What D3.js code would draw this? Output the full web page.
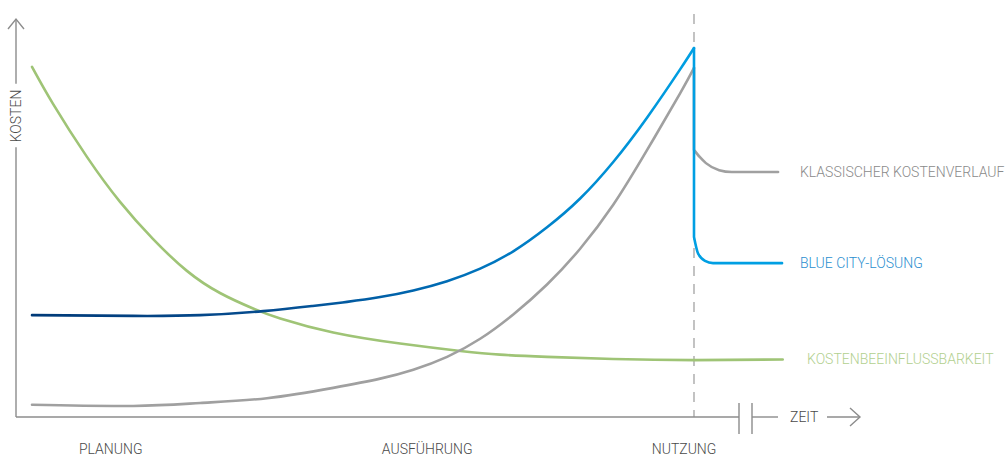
<!DOCTYPE html>
<html>
<head>
<meta charset="utf-8">
<script src="https://cdn.jsdelivr.net/npm/d3@7"></script>
<style>
  html, body { margin: 0; padding: 0; background: #fff; }
  svg { display: block; font-family: Roboto, "Liberation Sans", Arial, sans-serif; font-weight: 300; }
</style>
</head>
<body>
<svg id="chart" width="1005" height="457"></svg>
<script>
// Phase labels along the time axis (position in time units, 0 = start, 100 = handover)
const phases = ["PLANUNG", "AUSFÜHRUNG", "NUTZUNG"];
const phaseTime = [11.9, 59.7, 98.5];

// Series names, shown at the right end of each curve
const seriesNames = ["KLASSISCHER KOSTENVERLAUF", "BLUE CITY-LÖSUNG", "KOSTENBEEINFLUSSBARKEIT"];

// Classic cost curve (relative cost index) up to handover
const classicTime = [0, 15.3, 25.4, 35.5, 45.5, 52.6, 57.6, 62.7, 67.7, 72.7, 77.8, 82.8, 87.8, 92.9, 97.9, 100];
const classicCost = [3.3, 3.0, 3.8, 5.1, 7.9, 10.4, 12.8, 16.3, 21.2, 27.8, 35.9, 45.6, 57.5, 72.3, 87.7, 94.6];
// Classic cost during use: drop at handover, then settles
const classicDrop = [94.6, 72.4];
const classicUseTime = [100, 100.9, 101.8, 103.8, 105.7, 112.7];
const classicUseCost = [72.4, 70.4, 68.8, 66.9, 66.4, 66.4];

// Blue City solution up to handover
const blueTime = [0, 15.3, 25.4, 34.9, 42.4, 47.6, 52.6, 57.6, 62.7, 67.7, 72.7, 77.8, 82.8, 87.8, 92.9, 97.9, 100];
const blueCost = [27.6, 27.4, 27.6, 28.7, 30.1, 31.2, 32.5, 34.3, 36.8, 40.2, 44.9, 51.4, 59.2, 69.1, 81.1, 94.2, 100];
// Blue City solution during use
const blueDrop = [100, 48.8];
const blueUseTime = [100, 100.6, 101.66, 102.87, 113.3];
const blueUseCost = [48.8, 44.4, 42.3, 41.7, 41.7];

// Ability to influence costs over time
const influenceTime = [0, 3.2, 8.3, 13.3, 18.3, 23.4, 28.4, 33.4, 37.5, 45.5, 55.6, 64.7, 70.7, 77.8, 87.8, 100, 113.4];
const influenceValue = [94.9, 84.8, 70.5, 58.3, 48.2, 39.6, 33.6, 29.4, 26.7, 22.9, 19.9, 17.9, 16.9, 16.3, 15.7, 15.4, 15.6];

// Layout
const W = 1005, H = 457;
const axisX = 16, axisY = 417;
const plotLeft = 32, handoverX = 694, peakY = 48;
const fontSize = 14;

const svg = d3.select("#chart");

const x = d3.scaleLinear().domain([0, 100]).range([plotLeft, handoverX]);
const y = d3.scaleLinear().domain([0, 100]).range([axisY, peakY]);

const axisColor = "#8c8c8c";
const textColor = "#4a4a4a";
const grey = "#a0a0a0";
const green = "#9fc476";
const blueLight = "#009fe3";

// Gradient for the blue curve: navy at the start, bright blue at handover
const defs = svg.append("defs");
const grad = defs.append("linearGradient")
  .attr("id", "blueGrad")
  .attr("gradientUnits", "userSpaceOnUse")
  .attr("x1", x(0)).attr("y1", 0)
  .attr("x2", x(100)).attr("y2", 0);
[[0, "#003a78"], [0.35, "#064c8f"], [0.55, "#0062aa"], [0.72, "#0079c2"], [0.87, "#0090d5"], [1, "#00a0e3"]]
  .forEach(([o, c]) => grad.append("stop").attr("offset", o).attr("stop-color", c));

const zip = (ts, vs) => ts.map((t, i) => [t, vs[i]]);
const smooth = d3.line().x(d => x(d[0])).y(d => y(d[1])).curve(d3.curveNatural);
const settle = d3.line().x(d => x(d[0])).y(d => y(d[1])).curve(d3.curveMonotoneX);

// Vertical drop at handover followed by the settling curve
function dropPath(drop, ts, vs) {
  const tail = settle(zip(ts, vs));
  return `M${x(100)},${y(drop[0])}L${x(100)},${y(drop[1])}` + tail.replace(/^M[^CLZ]*/, "");
}

// Handover marker (dashed)
svg.append("line")
  .attr("x1", x(100)).attr("x2", x(100))
  .attr("y1", 14).attr("y2", axisY)
  .attr("stroke", "#b4b4b4").attr("stroke-width", 1.6)
  .attr("stroke-dasharray", "10,8");

// Curves
const curves = svg.append("g").attr("fill", "none")
  .attr("stroke-width", 2.6).attr("stroke-linecap", "round").attr("stroke-linejoin", "round");

curves.append("path").attr("d", smooth(zip(influenceTime, influenceValue))).attr("stroke", green);
curves.append("path").attr("d", smooth(zip(classicTime, classicCost))).attr("stroke", grey);
curves.append("path").attr("d", dropPath(classicDrop, classicUseTime, classicUseCost)).attr("stroke", grey);
curves.append("path").attr("d", smooth(zip(blueTime, blueCost))).attr("stroke", "url(#blueGrad)");
curves.append("path").attr("d", dropPath(blueDrop, blueUseTime, blueUseCost)).attr("stroke", blueLight);

// Series labels at the curve ends
const labelColors = ["#8a8a8a", "#2b8fd0", "#b2d08f"];
const labelAt = [
  [800, y(classicUseCost[classicUseCost.length - 1])],
  [800, y(blueUseCost[blueUseCost.length - 1])],
  [807, y(influenceValue[influenceValue.length - 1])]
];
seriesNames.forEach((name, i) => {
  svg.append("text")
    .attr("x", labelAt[i][0]).attr("y", labelAt[i][1])
    .attr("dy", "0.36em")
    .attr("font-size", fontSize)
    .attr("fill", labelColors[i])
    .text(name);
});

// Axes
const axes = svg.append("g").attr("stroke", axisColor).attr("stroke-width", 1.4).attr("fill", "none");

// Vertical axis title, set into a gap in the axis line
const yTitle = svg.append("text")
  .attr("transform", `translate(${axisX},116) rotate(-90)`)
  .attr("text-anchor", "middle")
  .attr("dy", "0.36em")
  .attr("font-size", fontSize)
  .attr("fill", textColor)
  .text("KOSTEN");
const tLen = yTitle.node().getComputedTextLength();
axes.append("line").attr("x1", axisX).attr("x2", axisX).attr("y1", 19).attr("y2", 116 - tLen / 2 - 6);
axes.append("line").attr("x1", axisX).attr("x2", axisX).attr("y1", 116 + tLen / 2 + 5).attr("y2", axisY);
axes.append("path").attr("d", `M${axisX - 8},${29}L${axisX},${19}L${axisX + 8},${29}`);

// Horizontal axis with a break and the time arrow
const breakL = 739, breakR = 752;
axes.append("line").attr("x1", axisX).attr("x2", breakL).attr("y1", axisY).attr("y2", axisY);
axes.append("line").attr("x1", breakL).attr("x2", breakL).attr("y1", axisY - 14).attr("y2", axisY + 17);
axes.append("line").attr("x1", breakR).attr("x2", breakR).attr("y1", axisY - 14).attr("y2", axisY + 17);
axes.append("line").attr("x1", breakR).attr("x2", 778).attr("y1", axisY).attr("y2", axisY);
axes.append("line").attr("x1", 827).attr("x2", 860).attr("y1", axisY).attr("y2", axisY);
axes.append("path").attr("d", `M850,${axisY - 9}L860,${axisY}L850,${axisY + 9}`);

svg.append("text")
  .attr("x", 790).attr("y", axisY).attr("dy", "0.36em")
  .attr("font-size", fontSize).attr("fill", textColor)
  .text("ZEIT");

// Phase labels
svg.append("g").selectAll("text")
  .data(phases)
  .join("text")
  .attr("x", (d, i) => x(phaseTime[i]))
  .attr("y", 454)
  .attr("text-anchor", "middle")
  .attr("font-size", fontSize)
  .attr("fill", textColor)
  .text(d => d);
</script>
</body>
</html>
